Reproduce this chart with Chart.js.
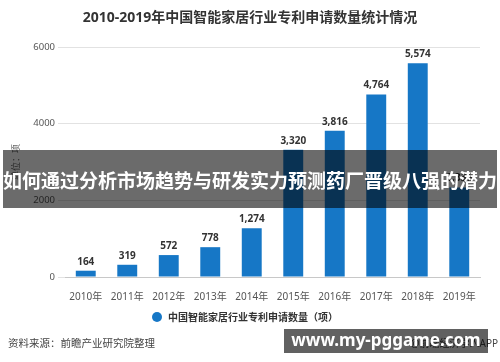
<!DOCTYPE html>
<html><head><meta charset="utf-8">
<script src="https://cdn.jsdelivr.net/npm/chart.js@4"></script>
<style>
html,body{margin:0;padding:0;background:#fff;}
#wrap{position:relative;width:500px;height:362px;overflow:hidden;font-family:"Noto Sans","Noto Sans CJK SC",sans-serif;}
canvas{position:absolute;left:0;top:0;}
.t{position:absolute;white-space:nowrap;}
</style></head><body>
<div id="wrap">
<canvas id="c" width="500" height="362"></canvas>
<div class="t" style="left:0;width:500px;top:7px;text-align:center;font-size:14px;font-weight:bold;color:#333;line-height:20px;">2010-2019年中国智能家居行业专利申请数量统计情况</div>
<div class="t" style="left:152px;top:312px;width:10px;height:10px;border-radius:50%;background:#1677c6;"></div>
<div class="t" style="left:168px;top:309px;font-size:10px;font-weight:bold;color:#333;line-height:16px;">中国智能家居行业专利申请数量（项）</div>
<div class="t" style="left:8px;top:335px;font-size:10.5px;color:#444;line-height:16px;">资料来源：前瞻产业研究院整理</div>
<div class="t" style="right:2px;top:335px;font-size:10px;color:#444;line-height:16px;">@前瞻经济学人APP</div>
<div class="t" style="left:3px;top:150px;width:494px;height:58px;background:rgba(0,0,0,0.58);color:#fff;font-size:19px;font-weight:bold;text-align:center;line-height:60px;font-family:'Noto Sans CJK SC',sans-serif;">如何通过分析市场趋势与研发实力预测药厂晋级八强的潜力</div>
<div class="t" style="left:284px;top:329px;width:204px;height:24px;background:rgba(0,0,0,0.62);color:#fff;font-size:17px;font-weight:bold;text-align:center;line-height:22px;">www.my-pggame.com</div>
</div>
<script>
const categories = ["2010年","2011年","2012年","2013年","2014年","2015年","2016年","2017年","2018年","2019年"];
const patents = [164, 319, 572, 778, 1274, 3320, 3816, 4764, 5574, 2336];
const yTicks = [0, 2000, 4000, 6000];

const valueLabels = {
  id: 'valueLabels',
  afterDatasetsDraw(chart) {
    const ctx = chart.ctx;
    const meta = chart.getDatasetMeta(0);
    ctx.save();
    ctx.font = 'bold 10px "Noto Sans","Noto Sans CJK SC",sans-serif';
    ctx.fillStyle = '#333';
    ctx.textAlign = 'center';
    ctx.textBaseline = 'bottom';
    meta.data.forEach((bar, i) => {
      ctx.fillText(patents[i].toLocaleString('en-US'), bar.x, bar.y - 4);
    });
    ctx.restore();
  }
};

new Chart(document.getElementById('c'), {
  type: 'bar',
  data: {
    labels: categories,
    datasets: [{
      label: '中国智能家居行业专利申请数量（项）',
      data: patents,
      backgroundColor: '#1677c6',
      categoryPercentage: 1,
      barPercentage: 0.48
    }]
  },
  options: {
    responsive: false,
    animation: false,
    devicePixelRatio: 1,
    layout: { padding: { left: 0, right: 20, top: 47, bottom: 60 } },
    plugins: { legend: { display: false }, title: { display: false }, tooltip: { enabled: false } },
    scales: {
      x: {
        afterFit(s) { s.height = 25; },
        grid: { display: false },
        border: { color: '#c8c8c8' },
        ticks: { color: '#555', font: { size: 10, family: '"Noto Sans","Noto Sans CJK SC",sans-serif' }, padding: 6, maxRotation: 0 }
      },
      y: {
        min: 0, max: 6000,
        afterFit(s) { s.width = 65; },
        afterBuildTicks(s) { s.ticks = yTicks.map(v => ({ value: v })); },
        grid: { color: '#e2e2e2', tickLength: 7, tickColor: '#e2e2e2' },
        border: { display: false },
        title: { display: true, text: '单位：项', color: '#666', font: { size: 9, family: '"Noto Sans CJK SC",sans-serif' }, padding: { top: 10, bottom: 0 } },
        ticks: { color: '#555', font: { size: 9.5, family: '"Noto Sans",sans-serif' }, padding: 3, callback: v => String(v) }
      }
    }
  },
  plugins: [valueLabels]
});
</script>
</body></html>
